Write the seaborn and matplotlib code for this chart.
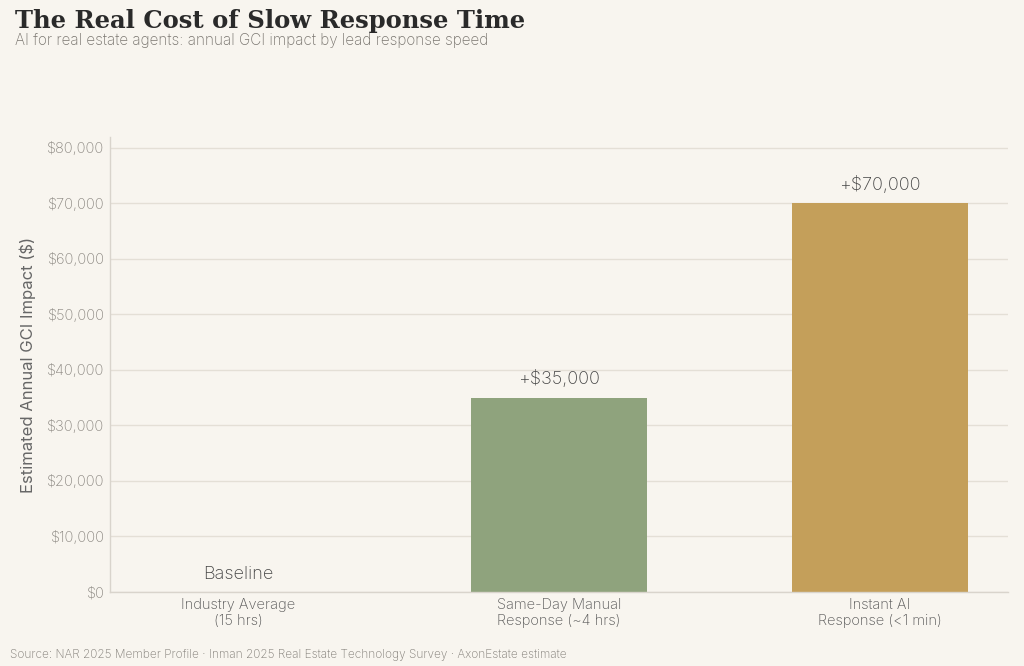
import matplotlib
matplotlib.use("Agg")
import matplotlib.pyplot as plt
import seaborn as sns
import pandas as pd
from matplotlib.ticker import FuncFormatter

# --- data ---------------------------------------------------------------
categories = ["Industry Average\n(15 hrs)",
              "Same-Day Manual\nResponse (~4 hrs)",
              "Instant AI\nResponse (<1 min)"]
impact = [0, 35000, 70000]
bar_labels = ["Baseline", "+$35,000", "+$70,000"]
bar_colors = ["#b8b2a7", "#8fa37d", "#c49f5a"]

bg = "#f8f5ef"
sns.set_theme(style="white")
plt.rcParams["font.family"] = ["Inter", "DejaVu Sans"]
plt.rcParams["font.weight"] = "light"

df = pd.DataFrame({"cat": categories, "val": impact})

fig = plt.figure(figsize=(10.24, 6.66), dpi=100, facecolor=bg)
ax = fig.add_axes([110 / 1024, 1 - 592 / 666, 898 / 1024, 455 / 666])
ax.set_facecolor(bg)

sns.barplot(data=df, x="cat", y="val", hue="cat", palette=bar_colors,
            width=0.55, legend=False, ax=ax, saturation=1, linewidth=0)

ax.set_xlim(-0.4, 2.4)
ax.set_ylim(0, 81900)
ax.set_yticks(range(0, 80001, 10000))
ax.yaxis.set_major_formatter(FuncFormatter(lambda v, p: f"${v:,.0f}"))
ax.grid(axis="y", color="#e4dfd6", linewidth=1)
ax.set_axisbelow(True)

for s in ["top", "right"]:
    ax.spines[s].set_visible(False)
for s in ["left", "bottom"]:
    ax.spines[s].set_color("#d9d4cc")
    ax.spines[s].set_linewidth(1)

ax.tick_params(axis="both", length=0, labelsize=10.5, colors="#8a8680", pad=4)
ax.tick_params(axis="x", colors="#555555")
ax.set_xlabel("")
ax.set_ylabel("Estimated Annual GCI Impact ($)", fontsize=12, color="#666666",
              labelpad=8)

for i, (v, lab) in enumerate(zip(impact, bar_labels)):
    ax.text(i, v + 1700, lab, ha="center", va="bottom", fontsize=13,
            color="#444444")

fig.text(15 / 1024, 1 - 21 / 666, "The Real Cost of Slow Response Time",
         family=["DejaVu Serif"], fontweight="heavy", fontsize=17.5,
         color="#2a2a2a", va="center", ha="left")
fig.text(15 / 1024, 1 - 40 / 666,
         "AI for real estate agents: annual GCI impact by lead response speed",
         fontsize=11, color="#7a7670", va="center", ha="left")
fig.text(10 / 1024, 1 - 655 / 666,
         "Source: NAR 2025 Member Profile · Inman 2025 Real Estate Technology Survey · AxonEstate estimate",
         fontsize=8.5, color="#7f7b75", va="center", ha="left")

fig.savefig("out.png", dpi=100, facecolor=bg)
